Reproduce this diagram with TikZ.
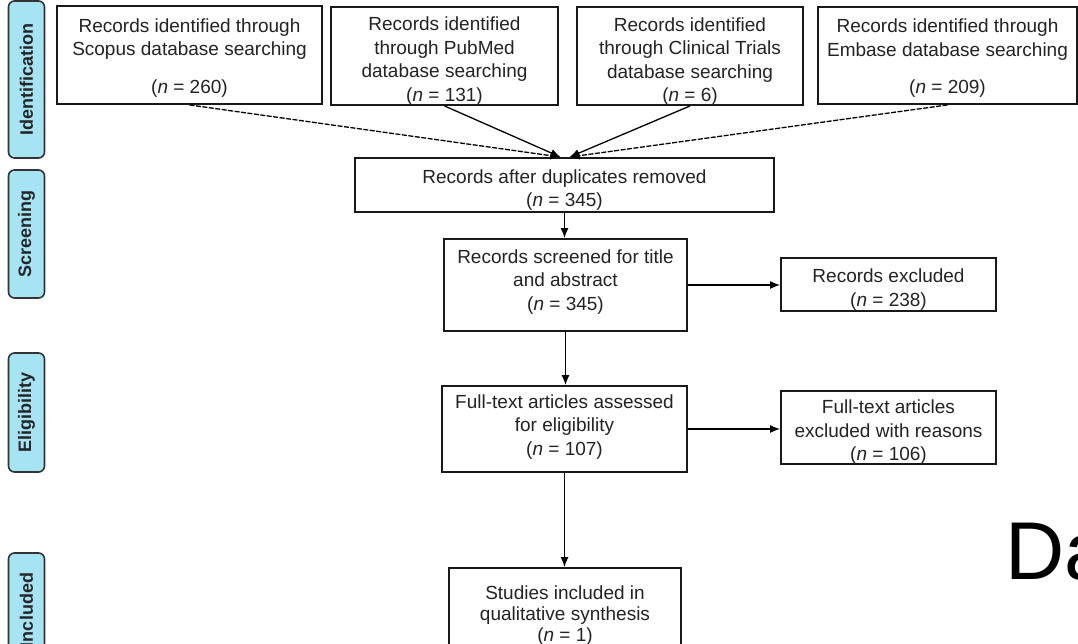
\documentclass[tikz,border=0pt]{standalone}
\usepackage{fontspec}
\setmainfont{Liberation Sans}
\usetikzlibrary{arrows.meta}
\definecolor{lbl}{RGB}{166,227,243}
\definecolor{txt}{RGB}{35,35,35}
\begin{document}
\begin{tikzpicture}[x=1pt,y=-1pt,
  box/.style={draw=black!90, line width=1.9pt, rectangle, inner sep=0pt},
  boxtext/.style={inner sep=0pt, align=center, text=txt, font=\fontsize{19}{23.5}\selectfont},
  tx/.style 2 args={label={[boxtext, yshift=#1]center:{#2}}},
  phase/.style={draw=black!80, line width=1.6pt, rounded corners=6pt, fill=lbl, inner sep=0pt, minimum height=36pt, rotate=90, font=\bfseries\fontsize{18}{20}\selectfont, text=black!85},
  arr/.style={-{Latex[length=10pt,width=8pt]}, line width=1.3pt, black},
  darr/.style={arr, dash pattern=on 5pt off 1.5pt}]
\useasboundingbox (0,0) rectangle (1078,644);
\clip (0,0) rectangle (1078,644);
\fill[white] (0,0) rectangle (1078,644);

% phase labels
\node[phase, minimum width=157pt] (pid) at (26.5,79.5) {Identification};
\node[phase, minimum width=128pt] (psc) at (26.5,234) {Screening};
\node[phase, minimum width=119pt] (pel) at (26.5,412.5) {Eligibility};
\node[phase, minimum width=114pt] (pin) at (26.5,610) {Included};

% identification boxes
\node[box, minimum width=265pt, minimum height=98pt,
  tx={-3pt}{Records identified through\\Scopus database searching\\[14pt](\textit{n} = 260)}] (scopus) at (189.5,55) {};
\node[box, minimum width=227pt, minimum height=98pt,
  tx={-5pt}{Records identified\\through PubMed\\database searching\\(\textit{n} = 131)}] (pubmed) at (444.5,56) {};
\node[box, minimum width=226pt, minimum height=98pt,
  tx={-5.5pt}{Records identified\\through Clinical Trials\\database searching\\(\textit{n} = 6)}] (clinical) at (690,56) {};
\node[box, minimum width=259pt, minimum height=97pt,
  tx={-3pt}{Records identified through\\Embase database searching\\[14pt](\textit{n} = 209)}] (embase) at (947.5,55.5) {};

% flow
\node[box, minimum width=419pt, minimum height=54pt,
  tx={-5pt}{Records after duplicates removed\\(\textit{n} = 345)}] (dup) at (564.5,185) {};
\node[box, minimum width=243pt, minimum height=92pt,
  tx={3pt}{Records screened for title\\and abstract\\(\textit{n} = 345)}] (screen) at (565.5,285) {};
\node[box, minimum width=215pt, minimum height=53pt,
  tx={-5pt}{Records excluded\\(\textit{n} = 238)}] (excl) at (888.5,284.5) {};
\node[box, minimum width=245pt, minimum height=86pt,
  tx={2pt}{Full-text articles assessed\\for eligibility\\(\textit{n} = 107)}] (full) at (564.5,429) {};
\node[box, minimum width=215pt, minimum height=73pt,
  tx={-5pt}{Full-text articles\\excluded with reasons\\(\textit{n} = 106)}] (ftexcl) at (888.5,427.5) {};
\node[box, minimum width=232pt, minimum height=92pt,
  label={[boxtext, font=\fontsize{19}{21}\selectfont, yshift=-2pt]center:{Studies included in\\qualitative synthesis\\(\textit{n} = 1)}}] (studies) at (565,614) {};

% connectors
\draw[darr] (scopus.south) -- ([xshift=-4pt]dup.north);
\draw[arr] (pubmed.south) -- ([xshift=-4pt]dup.north);
\draw[arr] (clinical.south) -- ([xshift=5pt]dup.north);
\draw[darr] (embase.south) -- ([xshift=5pt]dup.north);
\draw[arr] (dup.south) -- (dup.south |- screen.north);
\draw[arr] (screen.east) -- (screen.east -| excl.west);
\draw[arr] (screen.south) -- (screen.south |- full.north);
\draw[arr] (full.east) -- (full.east -| ftexcl.west);
\draw[arr] (full.south) -- (full.south |- studies.north);

% large text at right edge
\node[anchor=base west, inner sep=0pt, font=\fontsize{82}{82}\selectfont] (da) at (1005.5,579) {Da};
\end{tikzpicture}
\end{document}
